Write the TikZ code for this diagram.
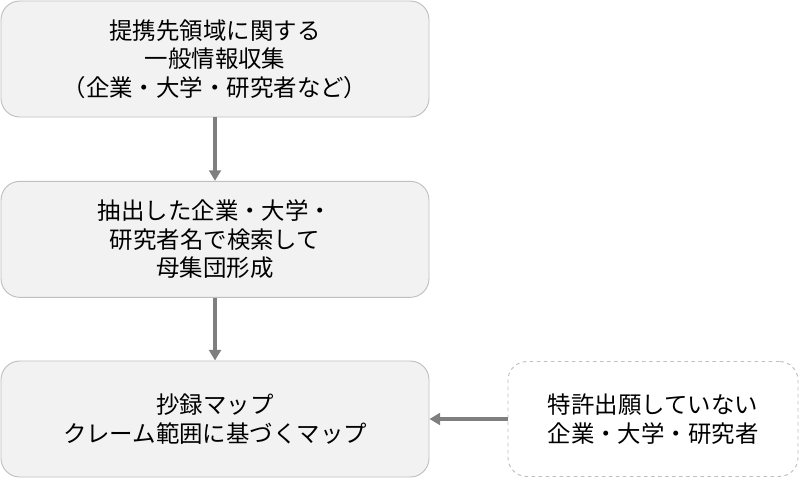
\documentclass[tikz,border=0pt]{standalone}
\usepackage{fontspec}
\setmainfont{Noto Sans CJK JP}
\usetikzlibrary{arrows.meta,positioning}
\definecolor{MyBoxGray}{HTML}{F2F2F2}
\definecolor{MyEdgeGray}{HTML}{BFBFBF}
\definecolor{MyArrowGray}{HTML}{7F7F7F}
\begin{document}
\begin{tikzpicture}[>={Triangle[length=9pt,width=10pt]},
		stepbox/.style={draw=MyEdgeGray, line width=0.8pt, rounded corners=16pt,
			fill=MyBoxGray, align=center, minimum width=12.84cm, minimum height=3.48cm,
			font=\fontsize{20}{24.5}\selectfont},
		sourcebox/.style={draw=MyEdgeGray, line width=0.8pt, dashed, rounded corners=16pt,
			fill=white, align=center, minimum width=8.7cm, minimum height=3.45cm,
			font=\fontsize{20}{24.5}\selectfont},
		arrow/.style={->, line width=2.6pt, MyArrowGray}]
		\useasboundingbox (0,0) rectangle (24,14.37);
		\node[stepbox] (collect) at (6.45,12.6)
			{提携先領域に関する\\一般情報収集\\（企業・大学・研究者など）};
		\node[stepbox] (search) at (6.45,7.19)
			{抽出した企業・大学・\\研究者名で検索して\\母集団形成};
		\node[stepbox] (map) at (6.45,1.8)
			{抄録マップ\\クレーム範囲に基づくマップ};
		\node[sourcebox] (others) at (19.59,1.8)
			{特許出願していない\\企業・大学・研究者};
		\draw[arrow] (collect.south) -- (search.north);
		\draw[arrow] (search.south) -- (map.north);
		\draw[arrow] (others.west) -- (map.east);
	\end{tikzpicture}
\end{document}
